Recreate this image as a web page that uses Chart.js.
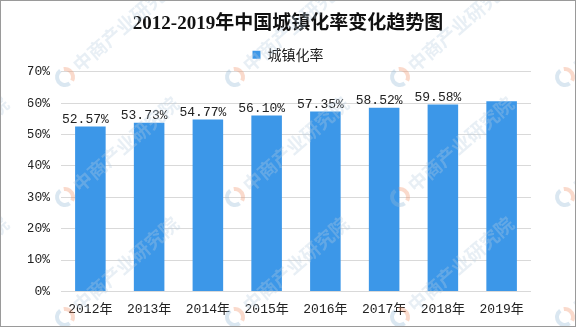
<!DOCTYPE html>
<html>
<head>
<meta charset="utf-8">
<script src="https://cdn.jsdelivr.net/npm/chart.js@4"></script>
<style>
  html, body { margin: 0; padding: 0; background: #fff; }
  #wrap { width: 576px; height: 327px; }
</style>
</head>
<body>
<div id="wrap"><canvas id="chart" width="576" height="327"></canvas></div>
<script>
// 城镇化率 2012-2019
const years = ['2012年', '2013年', '2014年', '2015年', '2016年', '2017年', '2018年', '2019年'];
const rate = [52.57, 53.73, 54.77, 56.10, 57.35, 58.52, 59.58, 60.60];
const showValue = [true, true, true, true, true, true, true, false];
const seriesName = '城镇化率';
const chartTitle = '2012-2019年中国城镇化率变化趋势图';
const watermark = '中商产业研究院';

const barColor = '#3c97e8';
const monoFont = "'Liberation Mono', 'Noto Sans CJK SC', monospace";

// value labels above the bars
const valueLabels = {
    id: 'valueLabels',
    afterDatasetsDraw(chart) {
        const ctx = chart.ctx;
        const meta = chart.getDatasetMeta(0);
        ctx.save();
        ctx.font = '13px ' + monoFont;
        ctx.fillStyle = '#222';
        ctx.textAlign = 'center';
        ctx.textBaseline = 'middle';
        meta.data.forEach((bar, i) => {
            if (!showValue[i]) return;
            ctx.fillText(rate[i].toFixed(2) + '%', bar.x - 5, bar.y - 7);
        });
        ctx.restore();
    }
};

// faint diagonal brand marks + outer frame
const decor = {
    id: 'decor',
    beforeDraw(chart) {
        const ctx = chart.ctx;
        ctx.save();
        ctx.fillStyle = '#fff';
        ctx.fillRect(0, 0, chart.width, chart.height);
        ctx.restore();
    },
    afterDraw(chart) {
        const ctx = chart.ctx;
        ctx.save();
        const cols = [-105, 65, 235, 400, 565];
        const rows = [77, 197, 317];
        const ang = -41 * Math.PI / 180;
        rows.forEach(y => cols.forEach(x => {
            ctx.lineWidth = 4;
            ctx.strokeStyle = 'rgba(150, 185, 215, 0.35)';
            ctx.beginPath();
            ctx.arc(x, y, 8, Math.PI * 0.3, Math.PI * 1.3);
            ctx.stroke();
            ctx.strokeStyle = 'rgba(240, 150, 110, 0.35)';
            ctx.beginPath();
            ctx.arc(x, y, 8, Math.PI * 1.45, Math.PI * 2.15);
            ctx.stroke();
            ctx.save();
            ctx.translate(x, y);
            ctx.rotate(ang);
            ctx.font = 'bold 19px "Noto Sans CJK SC"';
            ctx.fillStyle = 'rgba(185, 205, 225, 0.32)';
            ctx.textBaseline = 'middle';
            ctx.fillText(watermark, 14, 0);
            ctx.restore();
        }));
        ctx.strokeStyle = '#9a9a9a';
        ctx.lineWidth = 1;
        ctx.strokeRect(0.5, 0.5, chart.width - 1, chart.height - 1);
        ctx.restore();
    }
};

new Chart(document.getElementById('chart'), {
    type: 'bar',
    data: {
        labels: years,
        datasets: [{
            label: seriesName,
            data: rate,
            backgroundColor: barColor,
            borderWidth: 0,
            categoryPercentage: 1,
            barPercentage: 0.52
        }]
    },
    options: {
        responsive: false,
        animation: false,
        layout: { padding: { left: 28, right: 28, top: 0, bottom: 0 } },
        plugins: {
            title: {
                display: true,
                text: chartTitle,
                color: '#111',
                font: { family: "'Liberation Serif', 'Noto Sans CJK SC', serif", size: 19, weight: 'bold' },
                padding: { top: 13, bottom: 6 }
            },
            legend: {
                display: true,
                labels: {
                    boxWidth: 8,
                    boxHeight: 8,
                    padding: 6,
                    color: '#222',
                    font: { family: "'Noto Sans CJK SC'", size: 14 }
                }
            },
            tooltip: { enabled: false }
        },
        scales: {
            x: {
                grid: { display: false, drawTicks: false },
                border: { display: false },
                ticks: {
                    color: '#222',
                    padding: 10,
                    font: { family: monoFont, size: 13 }
                }
            },
            y: {
                min: 0,
                max: 70,
                afterFit: s => { s.width = 33; },
                grid: { color: '#d9d9d9', drawTicks: false },
                border: { display: false },
                ticks: {
                    stepSize: 10,
                    padding: 11,
                    color: '#222',
                    font: { family: monoFont, size: 13 },
                    callback: v => v + '%'
                }
            },
            // empty spacer on the right so the title sits centred on the canvas
            spacer: {
                type: 'linear',
                position: 'right',
                afterFit: s => { s.width = 17; },
                grid: { display: false, drawTicks: false },
                border: { display: false },
                ticks: { display: false }
            }
        }
    },
    plugins: [valueLabels, decor]
});
</script>
</body>
</html>
